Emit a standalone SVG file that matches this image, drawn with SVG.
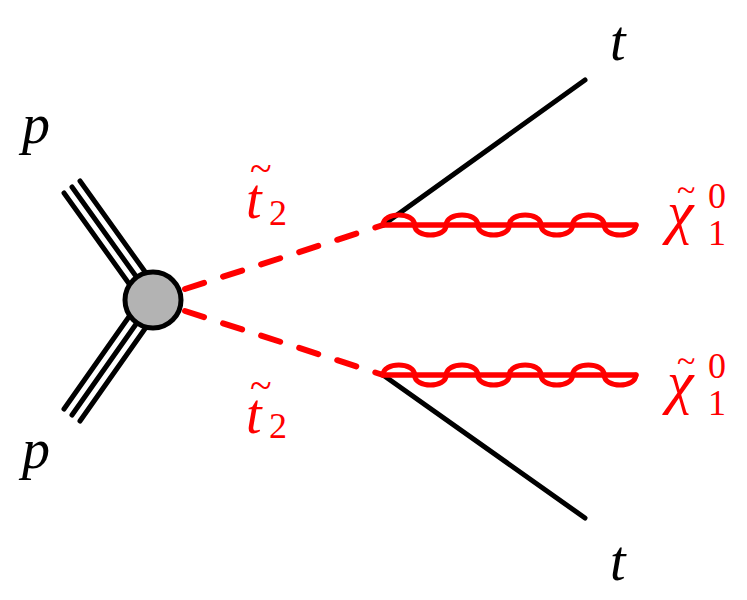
<svg xmlns="http://www.w3.org/2000/svg" width="747" height="600" viewBox="0 0 747 600">
<defs>
<style>
.k{stroke:#000;stroke-width:5;stroke-linecap:round;fill:none}
.r{stroke:#ff0000;stroke-width:5.5;stroke-linecap:round;fill:none}
.d{stroke:#ff0000;stroke-width:6;stroke-linecap:round;fill:none;stroke-dasharray:20 20}
.w{stroke:#ff0000;stroke-width:5;fill:none;stroke-linejoin:round;stroke-linecap:round}
</style>
<path id="wig" d="M0,0 c0,-13.3 31.6,-13.3 31.6,0 c0,13.3 31.6,13.3 31.6,0 c0,-13.3 31.6,-13.3 31.6,0 c0,13.3 31.6,13.3 31.6,0 c0,-13.3 31.6,-13.3 31.6,0 c0,13.3 31.6,13.3 31.6,0 c0,-13.3 31.6,-13.3 31.6,0 c0,13.3 31.6,13.3 31.6,0"/>
</defs>
<rect width="747" height="600" fill="#fff"/>
<g id="connectors">
<line class="k" x1="64" y1="193" x2="145" y2="306"/>
<line class="k" x1="72" y1="187" x2="153" y2="300"/>
<line class="k" x1="80" y1="181" x2="161" y2="294"/>
<line class="k" x1="64" y1="409" x2="145" y2="294"/>
<line class="k" x1="72" y1="415" x2="153" y2="300"/>
<line class="k" x1="80" y1="421" x2="161" y2="306"/>
<line class="d" x1="185" y1="289" x2="383" y2="225"/>
<line class="d" x1="185" y1="311" x2="383" y2="375"/>
<line class="k" x1="383" y1="225" x2="585" y2="80"/>
<line class="k" x1="383" y1="375" x2="585" y2="518"/>
<line class="r" x1="383" y1="225" x2="636" y2="225"/>
<use href="#wig" class="w" x="383" y="225"/>
<line class="r" x1="383" y1="375" x2="636" y2="375"/>
<use href="#wig" class="w" x="383" y="375"/>
</g>
<g id="blob">
<circle cx="153" cy="300" r="28" fill="#b3b3b3" stroke="#000" stroke-width="5"/>
</g>
<g id="label-p-top" font-family="Liberation Serif, serif" fill="#000"><text x="22" y="143" font-style="italic" font-size="56">p</text></g>
<g id="label-p-bottom" font-family="Liberation Serif, serif" fill="#000"><text x="22" y="468" font-style="italic" font-size="56">p</text></g>
<g id="label-t-top" font-family="Liberation Serif, serif" fill="#000"><text x="610" y="60" font-style="italic" font-size="56">t</text></g>
<g id="label-t-bottom" font-family="Liberation Serif, serif" fill="#000"><text x="610" y="580" font-style="italic" font-size="56">t</text></g>
<g id="label-stop-top" font-family="Liberation Serif, serif" fill="#ff0000">
<text x="250" y="182" font-size="40">~</text>
<text x="246" y="218" font-style="italic" font-size="56">t</text>
<text x="269" y="225" font-size="36">2</text>
</g>
<g id="label-stop-bottom" font-family="Liberation Serif, serif" fill="#ff0000">
<text x="250" y="399" font-size="40">~</text>
<text x="246" y="433" font-style="italic" font-size="56">t</text>
<text x="269" y="438" font-size="36">2</text>
</g>
<g id="label-chi-top" font-family="Liberation Serif, serif" fill="#ff0000">
<text x="677" y="201" font-size="34">~</text>
<text x="667" y="232" font-style="italic" font-size="60">χ</text>
<text x="708" y="208" font-size="36">0</text>
<text x="708" y="245" font-size="36">1</text>
</g>
<g id="label-chi-bottom" font-family="Liberation Serif, serif" fill="#ff0000">
<text x="677" y="372" font-size="34">~</text>
<text x="667" y="402" font-style="italic" font-size="60">χ</text>
<text x="708" y="378" font-size="36">0</text>
<text x="708" y="415" font-size="36">1</text>
</g>
</svg>
